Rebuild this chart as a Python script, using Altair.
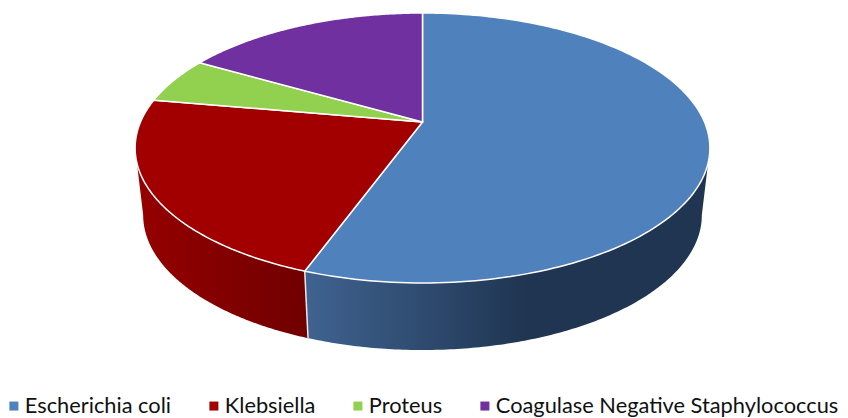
import math
import altair as alt

names = ["Escherichia coli", "Klebsiella", "Proteus", "Coagulase Negative Staphylococcus"]
values = [10, 4, 1, 3]
colors = ["#4f81bd", "#a20000", "#92d050", "#7030a0"]

# perspective model of the tilted disc (chart pixels)
AX, AY = 414.5, 114.0
RX, RY, PERSP = 282.0, 130.0, -0.1926
DEPTH, SHRINK = 67.0, 0.972


def rim(turn, lower=False):
    t = 2 * math.pi * turn
    u, v = math.sin(t), -math.cos(t)
    d = 1 + PERSP * v
    x, y = RX * u / d, RY * v / d
    if lower:
        return [AX + x * SHRINK, AY + y + DEPTH]
    return [AX + x, AY + y]


def sweep(a, b, lower=False, n=160):
    return [rim(a + (b - a) * i / n, lower) for i in range(n + 1)]


total = sum(values)
edges = [0.0]
for val in values:
    edges.append(edges[-1] + val / total)

right_turn = 101.1 / 360
left_turn = 258.9 / 360
seam = edges[1]


def feature(coords, name="", kind="Polygon"):
    geom = coords if kind == "LineString" else [coords]
    return {"type": "Feature", "properties": {"name": name},
            "geometry": {"type": kind, "coordinates": geom}}


def wall(a, b):
    pts = sweep(a, b) + sweep(a, b, True)[::-1]
    return feature(pts + [pts[0]])


tops = []
for i, name in enumerate(names):
    pts = [[AX, AY]] + sweep(edges[i], edges[i + 1]) + [[AX, AY]]
    tops.append(feature(pts, name))

proj = dict(type="identity", scale=1, translate=[0, 0])


def layer_data(feats):
    return alt.Data(values=feats)


blue_grad = alt.Gradient(
    gradient="linear", x1=0, x2=1, y1=0, y2=0,
    stops=[alt.GradientStop(color="#406391", offset=0),
           alt.GradientStop(color="#1f3551", offset=0.55),
           alt.GradientStop(color="#1f3551", offset=1)],
)
red_grad = alt.Gradient(
    gradient="linear", x1=0, x2=1, y1=0, y2=0,
    stops=[alt.GradientStop(color="#960000", offset=0),
           alt.GradientStop(color="#700000", offset=1)],
)

wall_red = alt.Chart(layer_data([wall(seam, left_turn)])).mark_geoshape(fill=red_grad, strokeWidth=0).project(**proj)
wall_blue = alt.Chart(layer_data([wall(right_turn, seam)])).mark_geoshape(fill=blue_grad, strokeWidth=0).project(**proj)
seam_line = alt.Chart(layer_data([feature([rim(seam), rim(seam, True)], kind="LineString")])).mark_geoshape(
    filled=False, stroke="#e8e8e8", strokeWidth=1.5).project(**proj)

top = alt.Chart(layer_data(tops)).mark_geoshape(stroke="white", strokeWidth=1.5).encode(
    color=alt.Color(
        "properties.name:N",
        scale=alt.Scale(domain=names, range=colors),
        legend=alt.Legend(
            title=None, orient="none", legendX=-5, legendY=387, padding=0, direction="horizontal",
            columns=4, gridAlign="each", columnPadding=31, symbolType="square",
            symbolSize=81, symbolStrokeWidth=0, symbolOffset=0, labelOffset=0,
            labelFont="Lato", labelFontSize=21.8, labelColor="#111111", labelLimit=600,
        ),
    )
).project(**proj)

chart = alt.layer(wall_red, wall_blue, seam_line, top).properties(
    width=832, height=410, padding=0, autosize=alt.AutoSizeParams(type="none")
).configure_view(stroke=None)

chart.save("out.html", embed_options={"renderer": "svg", "actions": False})
